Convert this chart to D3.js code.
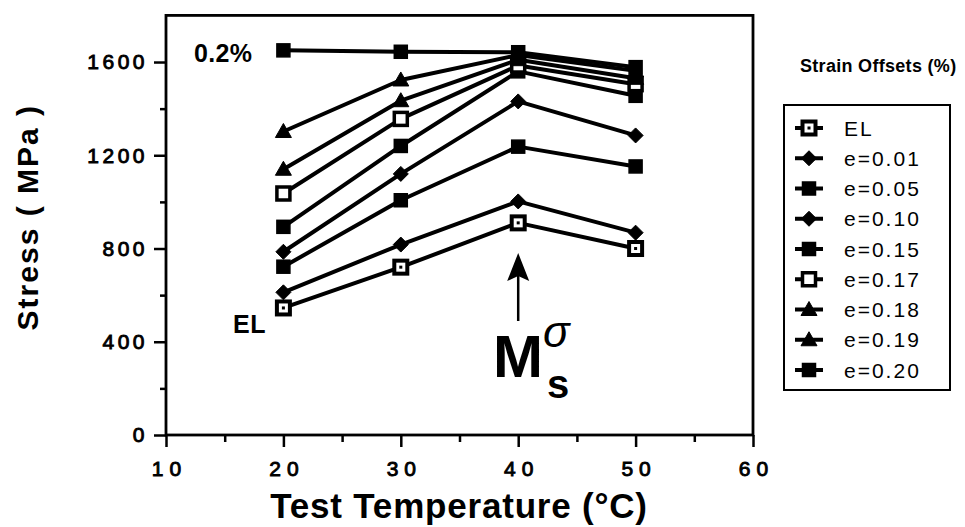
<!DOCTYPE html>
<html>
<head>
<meta charset="utf-8">
<script src="https://cdn.jsdelivr.net/npm/d3@7"></script>
<style>
  html, body { margin: 0; padding: 0; background: #fff; }
  svg { display: block; }
  text { font-family: "Liberation Sans", Arial, Helvetica, sans-serif; fill: #000; }
</style>
</head>
<body>
<svg id="chart" width="965" height="527"></svg>
<script>
// Test temperatures (°C)
const temperatures = [20, 30, 40, 50];

// Stress (MPa) at each strain offset
const seriesNames = ["EL", "e=0.01", "e=0.05", "e=0.10", "e=0.15", "e=0.17", "e=0.18", "e=0.19", "e=0.20"];
const stressEL   = [545, 720, 910, 800];
const stress001  = [612, 817, 1002, 868];
const stress005  = [722, 1007, 1237, 1152];
const stress010  = [786, 1120, 1431, 1285];
const stress015  = [893, 1240, 1560, 1455];
const stress017  = [1036, 1356, 1585, 1505];
const stress018  = [1140, 1434, 1610, 1530];
const stress019  = [1302, 1523, 1630, 1562];
const stress020  = [1650, 1644, 1642, 1578];

// Marker style per series
const markerKinds = ["squareDot", "diamond", "square", "diamond", "square", "squareOpen", "triangle", "triangle", "square"];

const yMajorTicks = [0, 400, 800, 1200, 1600];
const yMinorTicks = [200, 600, 1000, 1400];
const xMajorTicks = [10, 20, 30, 40, 50, 60];
const xMinorTicks = [15, 25, 35, 45, 55];

const allSeries = [stressEL, stress001, stress005, stress010, stress015, stress017, stress018, stress019, stress020];

const svg = d3.select("#chart");

const x = d3.scaleLinear().domain([10, 60]).range([166, 753]);
const y = d3.scaleLinear().domain([0, 1800]).range([435, 15.4]);

// Axes
const yAxisMajor = d3.axisLeft(y).tickValues(yMajorTicks).tickSize(12).tickPadding(9).tickFormat(d3.format("d"));
const yAxisMinor = d3.axisLeft(y).tickValues(yMinorTicks).tickSize(6).tickFormat("");
const xAxisMajor = d3.axisBottom(x).tickValues(xMajorTicks).tickSize(12).tickPadding(14).tickFormat(d3.format("d"));
const xAxisMinor = d3.axisBottom(x).tickValues(xMinorTicks).tickSize(7).tickFormat("");

function styleAxis(g) {
  g.select(".domain").remove();
  g.selectAll("line").attr("stroke", "#000").attr("stroke-width", 2.5);
  g.selectAll("text")
    .attr("font-size", 21)
    .attr("fill", "#000")
    .attr("stroke", "#000")
    .attr("stroke-width", 0.9)
    .attr("font-family", "Liberation Sans, Arial, sans-serif");
}

svg.append("g").attr("transform", `translate(${x(10)},0)`).call(yAxisMajor).call(styleAxis)
  .selectAll("text").attr("letter-spacing", 3.5).attr("dx", 3);
svg.append("g").attr("transform", `translate(${x(10)},0)`).call(yAxisMinor).call(styleAxis);
svg.append("g").attr("transform", `translate(0,${y(0)})`).call(xAxisMajor).call(styleAxis)
  .selectAll("text").attr("letter-spacing", 6).attr("dx", 3);
svg.append("g").attr("transform", `translate(0,${y(0)})`).call(xAxisMinor).call(styleAxis);

// Plot frame
svg.append("rect")
  .attr("x", x(10)).attr("y", y(1800))
  .attr("width", x(60) - x(10)).attr("height", y(0) - y(1800))
  .attr("fill", "none").attr("stroke", "#000").attr("stroke-width", 2.8);

// Axis titles
svg.append("text")
  .attr("transform", `translate(38,${(y(0) + y(1800)) / 2 - 8}) rotate(-90)`)
  .attr("text-anchor", "middle")
  .attr("font-size", 30).attr("font-weight", "bold").attr("letter-spacing", 2)
  .text("Stress ( MPa )");

svg.append("text")
  .attr("x", 459).attr("y", 518)
  .attr("text-anchor", "middle")
  .attr("font-size", 35).attr("font-weight", "bold").attr("letter-spacing", 0.8)
  .text("Test Temperature (°C)");

// Marker drawing
function drawMarker(g, kind, cx, cy) {
  const s = 6.5;
  if (kind.startsWith("square")) {
    const open = kind === "squareOpen" || kind === "squareDot";
    g.append("rect")
      .attr("x", cx - s).attr("y", cy - s).attr("width", 2 * s).attr("height", 2 * s)
      .attr("fill", open ? "#fff" : "#000")
      .attr("stroke", "#000").attr("stroke-width", open ? (kind === "squareDot" ? 4 : 3.5) : 1.5);
    if (kind === "squareDot") {
      g.append("rect").attr("x", cx - 1.5).attr("y", cy - 1.5).attr("width", 3).attr("height", 3).attr("fill", "#000");
    }
  } else if (kind === "diamond") {
    const d = 7.5;
    g.append("path")
      .attr("d", `M${cx},${cy - d}L${cx + d},${cy}L${cx},${cy + d}L${cx - d},${cy}Z`)
      .attr("fill", "#000").attr("stroke", "#000").attr("stroke-width", 1);
  } else if (kind === "triangle") {
    const t = 8;
    g.append("path")
      .attr("d", `M${cx},${cy - t}L${cx + t},${cy + t * 0.75}L${cx - t},${cy + t * 0.75}Z`)
      .attr("fill", "#000").attr("stroke", "#000").attr("stroke-width", 1);
  }
}

// Series lines and markers
const line = d3.line().x((d, i) => x(temperatures[i])).y(d => y(d));
const plot = svg.append("g");
allSeries.forEach((vals) => {
  plot.append("path").datum(vals).attr("d", line)
    .attr("fill", "none").attr("stroke", "#000").attr("stroke-width", 4).attr("stroke-linejoin", "round");
});
allSeries.forEach((vals, si) => {
  vals.forEach((v, i) => drawMarker(plot, markerKinds[si], x(temperatures[i]), y(v)));
});

// In-plot labels
svg.append("text").attr("x", 194).attr("y", 62)
  .attr("font-size", 25).attr("font-weight", "bold").attr("letter-spacing", 0.3).text("0.2%");
svg.append("text").attr("x", 233).attr("y", 333)
  .attr("font-size", 25).attr("font-weight", "bold").attr("letter-spacing", 0.5).text("EL");

// Arrow pointing at the peak temperature
const ax = x(40);
svg.append("line").attr("x1", ax).attr("x2", ax).attr("y1", 321).attr("y2", 272)
  .attr("stroke", "#000").attr("stroke-width", 2.5);
svg.append("path")
  .attr("d", `M${ax},253L${ax + 11},281L${ax},276L${ax - 11},281Z`)
  .attr("fill", "#000");
svg.append("text").attr("x", 493).attr("y", 377)
  .attr("font-size", 60).attr("font-weight", "bold").text("M");
svg.append("text").attr("x", 543).attr("y", 347)
  .attr("font-size", 44).attr("font-style", "italic")
  .attr("font-family", "Liberation Serif, Times New Roman, serif").text("σ");
svg.append("text").attr("x", 547).attr("y", 398)
  .attr("font-size", 40).attr("font-weight", "bold").text("s");

// Legend
svg.append("text").attr("x", 800).attr("y", 72)
  .attr("font-size", 18).attr("font-weight", "bold").attr("letter-spacing", 0.3).text("Strain Offsets (%)");
svg.append("rect").attr("x", 784).attr("y", 105).attr("width", 166).attr("height", 285)
  .attr("fill", "none").attr("stroke", "#000").attr("stroke-width", 2);

const legend = svg.append("g");
seriesNames.forEach((name, i) => {
  const ly = 128 + i * 30.25;
  legend.append("line").attr("x1", 795).attr("x2", 823).attr("y1", ly).attr("y2", ly)
    .attr("stroke", "#000").attr("stroke-width", 4);
  drawMarker(legend, markerKinds[i], 809, ly);
  legend.append("text").attr("x", 844).attr("y", ly + 7.5)
    .attr("font-size", 21).attr("letter-spacing", 2).text(name);
});
</script>
</body>
</html>
